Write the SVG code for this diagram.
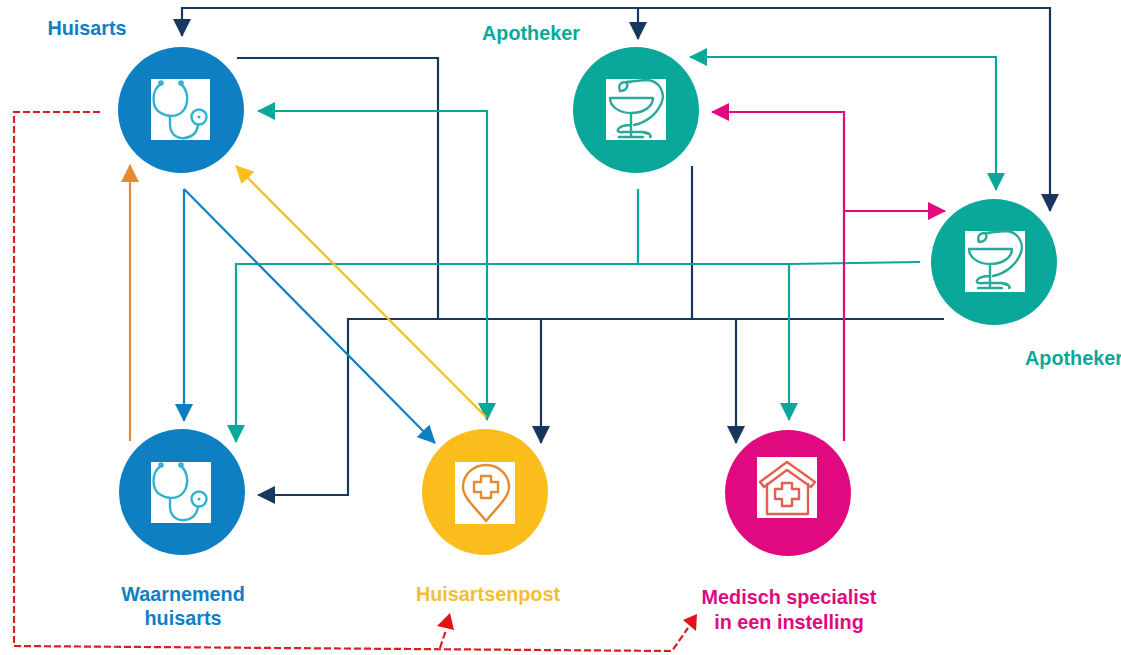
<svg xmlns="http://www.w3.org/2000/svg" width="1121" height="655" viewBox="0 0 1121 655">
<style>
text{font-family:"Liberation Sans",Arial,sans-serif;font-weight:700;font-size:19.8px}
.m{text-anchor:middle}
.c{fill:none;stroke-width:2.2}
.navy{stroke:#17375e}.teal{stroke:#0aa89a}.blue{stroke:#0f7fc4}.pink{stroke:#e0097f}.org{stroke:#e58a2e}.yel{stroke:#fbbd1c}
.red{fill:none;stroke:#d8201f;stroke-width:2.2;stroke-dasharray:7 3}
.i{fill:none;stroke-width:2.4;stroke-linecap:round;stroke-linejoin:round}
</style>
<defs>
<marker id="an" markerUnits="userSpaceOnUse" markerWidth="20" markerHeight="18" refX="17" refY="9" orient="auto-start-reverse"><path d="M0 0L18 9L0 18Z" fill="#17375e"/></marker>
<marker id="at" markerUnits="userSpaceOnUse" markerWidth="20" markerHeight="18" refX="17" refY="9" orient="auto-start-reverse"><path d="M0 0L18 9L0 18Z" fill="#0aa89a"/></marker>
<marker id="ab" markerUnits="userSpaceOnUse" markerWidth="20" markerHeight="18" refX="17" refY="9" orient="auto-start-reverse"><path d="M0 0L18 9L0 18Z" fill="#0f7fc4"/></marker>
<marker id="ap" markerUnits="userSpaceOnUse" markerWidth="20" markerHeight="18" refX="17" refY="9" orient="auto-start-reverse"><path d="M0 0L18 9L0 18Z" fill="#e0097f"/></marker>
<marker id="ao" markerUnits="userSpaceOnUse" markerWidth="20" markerHeight="18" refX="17" refY="9" orient="auto-start-reverse"><path d="M0 0L18 9L0 18Z" fill="#e58a2e"/></marker>
<marker id="ay" markerUnits="userSpaceOnUse" markerWidth="20" markerHeight="18" refX="17" refY="9" orient="auto-start-reverse"><path d="M0 0L18 9L0 18Z" fill="#fbbd1c"/></marker>
<g id="steth"><path class="i" stroke="#2fb2cf" d="M-20 -26C-30 -20 -30 -2 -20 3C-14 7 -4 7 1 2C9 -6 7 -20 0 -26M-11 6V14C-11 26 -2 29 4 28C12 27 16 22 17 15"/><circle class="i" stroke="#2fb2cf" cx="-20" cy="-27" r="1.6"/><circle class="i" stroke="#2fb2cf" cx="0" cy="-27" r="1.6"/><circle class="i" stroke="#2fb2cf" cx="18" cy="7" r="7.5"/><circle cx="18" cy="7" r="1.5" fill="#2fb2cf"/></g>
<g id="bowl"><path class="i" stroke="#2aa99c" d="M-26 -12H17M-26 -12C-26 -3 -16 3 -5 3C7 3 17 -3 17 -12M-5 3V27M-17 27H7M-5 15C-20 15 -22 24 -12 22H6C14 22 16 27 14 27M-16 -19C-18 -24 -16 -28 -10 -28L10 -30C24 -30 30 -16 25 -6C21 3 12 12 -2 15M-16 -19C-9 -19 -7 -25 -10 -28M-10 -28H-5"/></g>
</defs>

<g id="connectors">
<path class="c navy" d="M182 36V8H1050V211" marker-start="url(#an)" marker-end="url(#an)"/>
<path class="c navy" d="M638 8V39" marker-end="url(#an)"/>
<path class="c navy" d="M237 58H438V319"/>
<path class="c navy" d="M944 319H348V495H258" marker-end="url(#an)"/>
<path class="c navy" d="M692 166V319"/>
<path class="c navy" d="M541 319V443" marker-end="url(#an)"/>
<path class="c navy" d="M736 319V443" marker-end="url(#an)"/>
<path class="c teal" d="M258 111H487V420" marker-start="url(#at)" marker-end="url(#at)"/>
<path class="c teal" d="M690 57H996V190" marker-start="url(#at)" marker-end="url(#at)"/>
<path class="c teal" d="M638 189V264"/>
<path class="c teal" d="M920 262L790 264H236V442" marker-end="url(#at)"/>
<path class="c teal" d="M789 264V420" marker-end="url(#at)"/>
<path class="c blue" d="M184 189V421" marker-end="url(#ab)"/>
<path class="c blue" d="M184 189L435 443" marker-end="url(#ab)"/>
<path class="c org" d="M130 441V165" marker-end="url(#ao)"/>
<path class="c yel" d="M486 417L236 166" marker-end="url(#ay)"/>
<path class="c pink" d="M844 441V112H712" marker-end="url(#ap)"/>
<path class="c pink" d="M844 211H945" marker-end="url(#ap)"/>
<path class="red" d="M100 112H14V646L672 651L688 628"/>
<path class="red" d="M440 648L446 630"/>
<path d="M450 613L437 626L454 630Z" fill="#e2101b"/>
<path d="M697 614L683 620L696 631Z" fill="#e2101b"/>
</g>

<g id="huisarts"><circle cx="181" cy="110" r="63" fill="#0f7fc4"/><rect x="151" y="79" width="59" height="61" fill="#fff"/><use href="#steth" x="181" y="110"/><text class="m" x="87" y="35" fill="#0f7fc4">Huisarts</text></g>
<g id="apotheker-1"><circle cx="636" cy="110" r="63" fill="#0aa89a"/><rect x="606" y="79" width="60" height="61" fill="#fff"/><use href="#bowl" x="636" y="110"/><text class="m" x="531" y="40" fill="#0aa89a">Apotheker</text></g>
<g id="apotheker-2"><circle cx="994" cy="262" r="63" fill="#0aa89a"/><rect x="965" y="231" width="60" height="61" fill="#fff"/><use href="#bowl" x="995" y="261"/><text class="m" x="1074" y="365" fill="#0aa89a">Apotheker</text></g>
<g id="waarnemend-huisarts"><circle cx="182" cy="492" r="63" fill="#0f7fc4"/><rect x="151" y="462" width="60" height="61" fill="#fff"/><use href="#steth" x="181" y="492"/><text class="m" x="183" y="601" fill="#0f7fc4">Waarnemend</text><text class="m" x="183" y="625" fill="#0f7fc4">huisarts</text></g>
<g id="huisartsenpost"><circle cx="485" cy="492" r="63" fill="#fbbd1c"/><rect x="455" y="462" width="60" height="62" fill="#fff"/><path class="i" stroke="#e58a2e" d="M486 521C476 508 463 498 463 487C463 474 474 465 486 465C498 465 509 474 509 487C509 498 496 508 486 521Z"/><path class="i" stroke="#e58a2e" d="M481 476H491V482H498V492H491V498H481V492H474V482H481Z"/><text class="m" x="488" y="601" fill="#f3bd35">Huisartsenpost</text></g>
<g id="medisch-specialist"><circle cx="788" cy="493" r="63" fill="#e0097f"/><rect x="757" y="457" width="60" height="61" fill="#fff"/><path class="i" stroke="#e2604f" d="M760 482L787 462L815 482L811 487L787 470L764 487ZM767 484V514H808V484"/><path class="i" stroke="#e2604f" d="M782 483H792V489H799V499H792V506H782V499H775V489H782Z"/><text class="m" x="789" y="604" fill="#e0097f">Medisch specialist</text><text class="m" x="789" y="629" fill="#e0097f">in een instelling</text></g>
</svg>
